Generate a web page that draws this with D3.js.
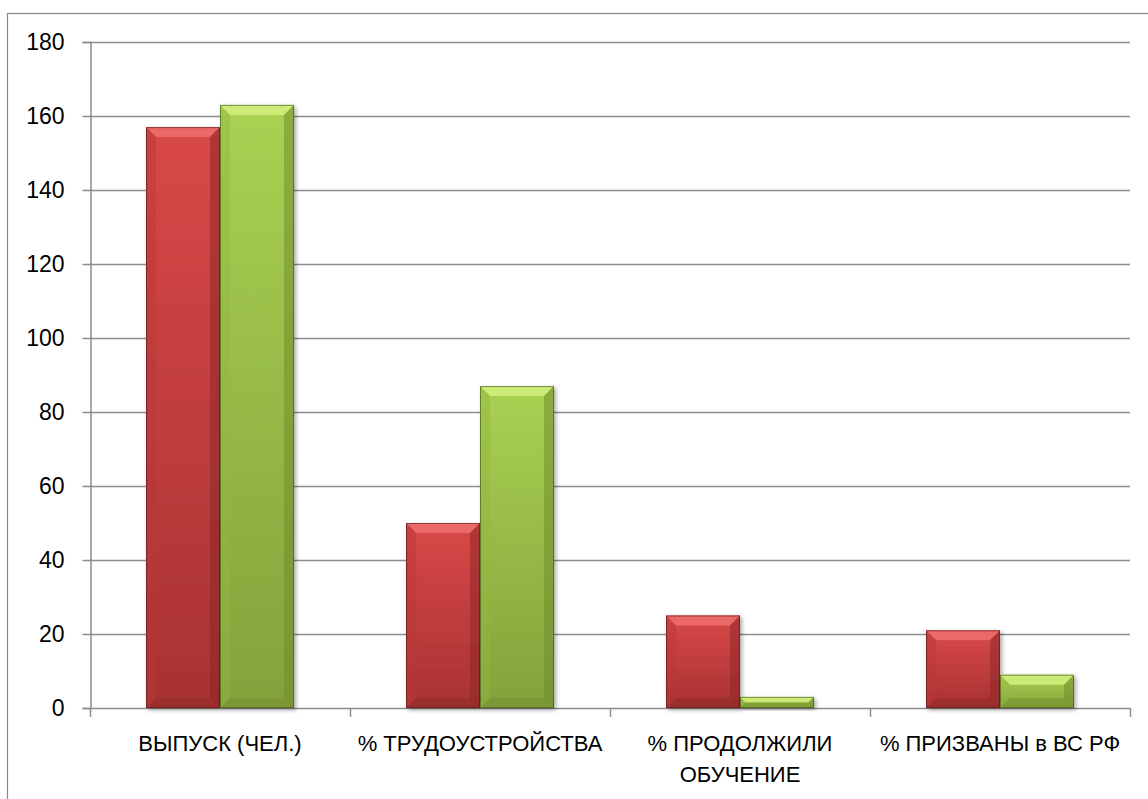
<!DOCTYPE html>
<html>
<head>
<meta charset="utf-8">
<script src="https://cdnjs.cloudflare.com/ajax/libs/d3/7.8.5/d3.min.js"></script>
<style>
  body { margin: 0; background: #fff; }
  svg text { font-family: "Liberation Sans", Arial, sans-serif; fill: #000; }
</style>
</head>
<body>
<svg width="1148" height="799"></svg>
<script>
var categories = [
    ["ВЫПУСК (ЧЕЛ.)"],
    ["% ТРУДОУСТРОЙСТВА"],
    ["% ПРОДОЛЖИЛИ", "ОБУЧЕНИЕ"],
    ["% ПРИЗВАНЫ в ВС РФ"]
];
var seriesNames = ["s1", "s2"];
var redValues = [157, 50, 25, 21];
var greenValues = [163, 87, 3, 9];
var yTicks = [0, 20, 40, 60, 80, 100, 120, 140, 160, 180];

var width = 1148,
    height = 799,
    margin = { left: 90, right: 18, top: 42, bottom: 91 };

var svg = d3.select("svg");

// outer chart frame (runs off right/bottom like the original)
svg.append("rect")
    .attr("x", 7.5).attr("y", 13.5)
    .attr("width", 1160).attr("height", 800)
    .attr("fill", "none")
    .attr("stroke", "#868686")
    .attr("stroke-width", 1.2);

var x0 = d3.scaleBand()
    .domain(d3.range(categories.length))
    .range([margin.left, width - margin.right])
    .paddingInner(0);

var x1 = d3.scaleBand()
    .domain(seriesNames)
    .range([0, x0.bandwidth()])
    .paddingInner(0)
    .paddingOuter(0.757);

var y = d3.scaleLinear()
    .domain([0, 180])
    .range([height - margin.bottom, margin.top]);

var defs = svg.append("defs");

var palettes = {
    s1: { top: "#d94848", bottom: "#a83232", hi: "#ef7070", side: "#b83838", dark: "#8a2525", edge: "#5a1515" },
    s2: { top: "#a9d152", bottom: "#84a23b", hi: "#d2f07e", side: "#92b544", dark: "#6d8a2a", edge: "#3f5215" }
};

seriesNames.forEach(function (s) {
    var p = palettes[s];
    var g = defs.append("linearGradient")
        .attr("id", "grad-" + s)
        .attr("x1", 0).attr("y1", 0).attr("x2", 0).attr("y2", 1);
    g.append("stop").attr("offset", "0%").attr("stop-color", p.top);
    g.append("stop").attr("offset", "100%").attr("stop-color", p.bottom);
});

var shadow = defs.append("filter").attr("id", "shadow")
    .attr("x", "-10%").attr("y", "-10%").attr("width", "130%").attr("height", "130%");
shadow.append("feDropShadow")
    .attr("dx", 2).attr("dy", 2).attr("stdDeviation", 2)
    .attr("flood-color", "#000").attr("flood-opacity", 0.35);

// gridlines
svg.append("g")
    .selectAll("line")
    .data(yTicks)
    .join("line")
    .attr("x1", margin.left)
    .attr("x2", width - margin.right)
    .attr("y1", function (d) { return Math.round(y(d)) + 0.5; })
    .attr("y2", function (d) { return Math.round(y(d)) + 0.5; })
    .attr("stroke", "#8c8c8c")
    .attr("stroke-width", 1.5);

// y axis
var yAxis = svg.append("g")
    .attr("transform", "translate(" + (margin.left + 0.5) + ",0)")
    .call(d3.axisLeft(y).tickValues(yTicks).tickSize(8).tickPadding(6));
yAxis.select(".domain").attr("stroke", "#8c8c8c").attr("stroke-width", 1.5);
yAxis.selectAll(".tick line").attr("stroke", "#8c8c8c").attr("stroke-width", 1.5);
yAxis.selectAll(".tick text")
    .attr("font-size", 23)
    .attr("font-family", "Liberation Sans, Arial, sans-serif")
    .attr("fill", "#000")
    .attr("dx", -12);

// x axis ticks at category boundaries
var boundaries = d3.range(categories.length + 1).map(function (i) {
    return i < categories.length ? x0(i) : x0(i - 1) + x0.bandwidth();
});
svg.append("g")
    .selectAll("line")
    .data(boundaries)
    .join("line")
    .attr("x1", function (d) { return Math.round(d) + 0.5; })
    .attr("x2", function (d) { return Math.round(d) + 0.5; })
    .attr("y1", y(0))
    .attr("y2", y(0) + 9)
    .attr("stroke", "#8c8c8c")
    .attr("stroke-width", 1.5);

// bars
var rows = categories.map(function (c, i) {
    return [
        { cat: i, s: "s1", v: redValues[i] },
        { cat: i, s: "s2", v: greenValues[i] }
    ];
});

function drawBar(g, d) {
    var p = palettes[d.s];
    var bx = x0(d.cat) + x1(d.s),
        bw = x1.bandwidth(),
        by = y(d.v),
        bh = y(0) - y(d.v);
    var b = Math.min(10, bh / 2, bw / 2);
    var bar = g.append("g").attr("filter", "url(#shadow)");
    bar.append("rect")
        .attr("x", bx).attr("y", by)
        .attr("width", bw).attr("height", bh)
        .attr("fill", "url(#grad-" + d.s + ")");
    // bevel: top highlight
    bar.append("polygon")
        .attr("points", [[bx, by], [bx + bw, by], [bx + bw - b, by + b], [bx + b, by + b]].join(" "))
        .attr("fill", p.hi).attr("opacity", 0.85);
    // left
    bar.append("polygon")
        .attr("points", [[bx, by], [bx + b, by + b], [bx + b, by + bh - b], [bx, by + bh]].join(" "))
        .attr("fill", p.side).attr("opacity", 0.45);
    // right
    bar.append("polygon")
        .attr("points", [[bx + bw, by], [bx + bw - b, by + b], [bx + bw - b, by + bh - b], [bx + bw, by + bh]].join(" "))
        .attr("fill", p.dark).attr("opacity", 0.5);
    // bottom
    bar.append("polygon")
        .attr("points", [[bx, by + bh], [bx + b, by + bh - b], [bx + bw - b, by + bh - b], [bx + bw, by + bh]].join(" "))
        .attr("fill", p.dark).attr("opacity", 0.4);
    bar.append("rect")
        .attr("x", bx + 0.5).attr("y", by + 0.5)
        .attr("width", bw - 1).attr("height", Math.max(0, bh - 1))
        .attr("fill", "none")
        .attr("stroke", p.edge)
        .attr("stroke-opacity", 0.6)
        .attr("stroke-width", 1);
}

var barsG = svg.append("g");
rows.forEach(function (r) {
    r.forEach(function (d) { drawBar(barsG, d); });
});

// category labels
var labels = svg.append("g")
    .selectAll("text")
    .data(categories)
    .join("text")
    .attr("x", function (d, i) { return x0(i) + x0.bandwidth() / 2; })
    .attr("y", y(0) + 43)
    .attr("text-anchor", "middle")
    .attr("font-size", 22);

labels.selectAll("tspan")
    .data(function (d) { return d; })
    .join("tspan")
    .attr("x", function () { return d3.select(this.parentNode).attr("x"); })
    .attr("dy", function (d, i) { return i === 0 ? 0 : 31; })
    .text(function (d) { return d; });
</script>
</body>
</html>
